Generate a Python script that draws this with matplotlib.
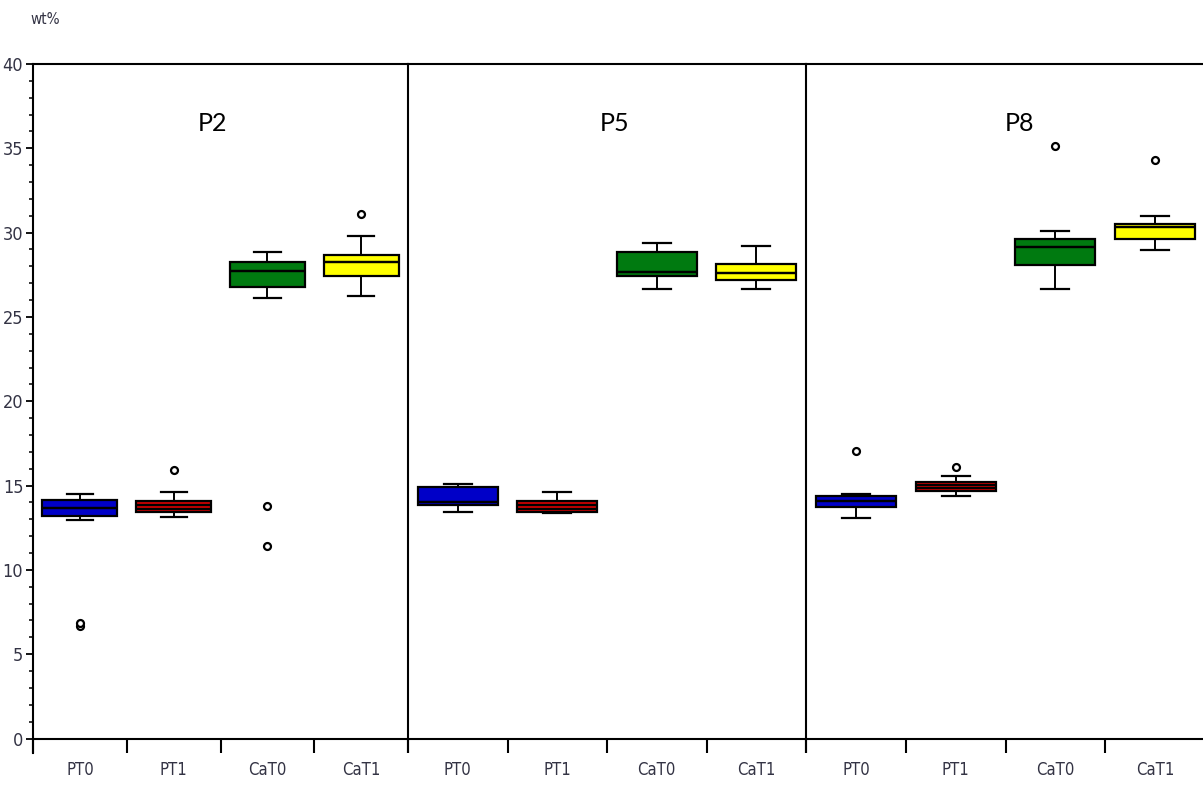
import matplotlib
matplotlib.use("Agg")
import matplotlib.pyplot as plt
from matplotlib.ticker import MultipleLocator

plt.rcParams['font.family'] = ['Liberation Sans Narrow', 'DejaVu Sans']
plt.rcParams['font.stretch'] = 'condensed'

panels = ["P2", "P5", "P8"]
groups = ["PT0", "PT1", "CaT0", "CaT1"]
colors = ["#0000c8", "#cc0000", "#007a10", "#ffff00"]

# box statistics (wt%), one list per panel, order PT0, PT1, CaT0, CaT1
q1 = [[13.21, 13.41, 26.77, 27.40],
      [13.83, 13.43, 27.40, 27.18],
      [13.73, 14.70, 28.09, 29.61]]
med = [[13.67, 13.61, 27.72, 28.25],
       [14.03, 13.63, 27.66, 27.60],
       [14.06, 14.83, 29.17, 30.34]]
q3 = [[14.12, 14.08, 28.25, 28.66],
      [14.92, 14.06, 28.84, 28.13],
      [14.38, 15.23, 29.63, 30.52]]
whislo = [[12.98, 13.14, 26.15, 26.25],
          [13.41, 13.39, 26.63, 26.67],
          [13.10, 14.36, 26.63, 28.94]]
whishi = [[14.50, 14.62, 28.86, 29.81],
          [15.09, 14.64, 29.39, 29.20],
          [14.48, 15.54, 30.10, 31.00]]
# second inner line seen in the red boxes
means = [[13.67, 13.83, 27.72, 28.25],
         [14.03, 13.85, 27.66, 27.60],
         [14.06, 15.03, 29.17, 30.34]]
fliers = [[[6.65, 6.85], [15.95], [13.8, 11.4], [31.1]],
          [[], [], [], []],
          [[17.03], [16.1], [35.16], [34.31]]]

W, H = 1203, 785
fig = plt.figure(figsize=(W / 100, H / 100), dpi=100)

# panel edges in pixels
edges = [33, 408, 806, 1205]
top_px, bot_px = 64, 738.5
title_x = [1.91, 2.08, 2.14]

for p in range(3):
    x0, x1 = edges[p], edges[p + 1]
    ax = fig.add_axes([x0 / W, 1 - bot_px / H, (x1 - x0) / W, (bot_px - top_px) / H])
    ax.set_facecolor("none")
    stats = []
    for i in range(4):
        stats.append(dict(med=med[p][i], q1=q1[p][i], q3=q3[p][i],
                          whislo=whislo[p][i], whishi=whishi[p][i],
                          mean=means[p][i], fliers=fliers[p][i]))
    pos = [i + 0.5 for i in range(4)]
    bp = ax.bxp(stats, positions=pos, widths=0.8, patch_artist=True,
                showmeans=True, meanline=True,
                boxprops=dict(edgecolor="black", linewidth=1.6),
                medianprops=dict(color="black", linewidth=1.6),
                meanprops=dict(color="black", linewidth=1.6, linestyle="-"),
                whiskerprops=dict(color="black", linewidth=1.4),
                capprops=dict(color="black", linewidth=1.6),
                capwidths=0.28,
                flierprops=dict(marker="o", markersize=5, markerfacecolor="white",
                                markeredgecolor="black", markeredgewidth=1.6))
    for patch, c in zip(bp["boxes"], colors):
        patch.set_facecolor(c)

    ax.set_xlim(0, 4)
    ax.set_ylim(0, 40)
    ax.set_xticks([0, 1, 2, 3, 4])
    ax.set_xticklabels([])
    ax.set_xticks(pos, minor=True)
    ax.set_xticklabels(groups, minor=True, fontsize=12, color="#333344")
    ax.tick_params(axis="x", which="major", direction="out", length=10, width=1.5)
    ax.tick_params(axis="x", which="minor", length=0, pad=16)

    ax.text(title_x[p], 36.5, panels[p], fontsize=18, family="Lato", stretch="normal",
            ha="center", va="center", color="black")

    for s in ax.spines.values():
        s.set_linewidth(1.5)
    if p == 0:
        ax.yaxis.set_major_locator(MultipleLocator(5))
        ax.yaxis.set_minor_locator(MultipleLocator(1))
        ax.tick_params(axis="y", which="major", direction="out", length=5, width=1.3,
                       labelsize=13, colors="black", labelcolor="#333344", pad=2)
        ax.tick_params(axis="y", which="minor", direction="out", length=3, width=1.1)
        ax.spines["left"].set_bounds(-0.85, 40)
        ax.spines["left"].set_clip_on(False)
    else:
        ax.spines["left"].set_visible(False)
        ax.set_yticks([])
    if p == 2:
        ax.spines["right"].set_visible(False)

fig.text(45 / W, 1 - 20 / H, "wt%", fontsize=11, color="#333344", ha="center", va="center")

fig.savefig("out.png", dpi=100)
